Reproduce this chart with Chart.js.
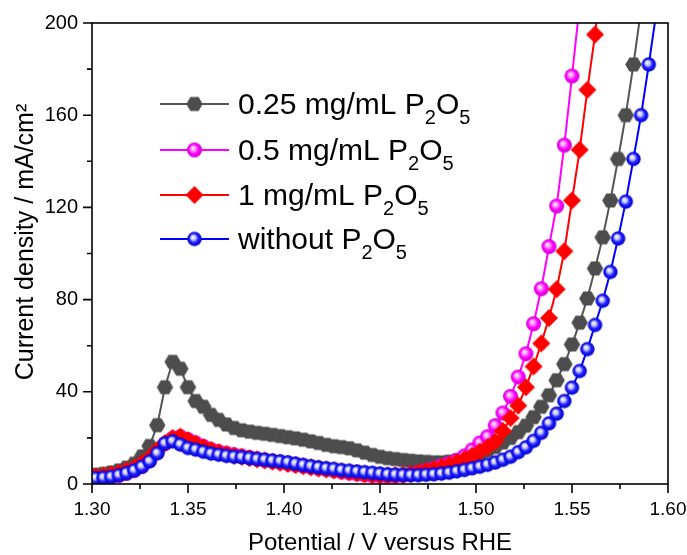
<!DOCTYPE html>
<html>
<head>
<meta charset="utf-8">
<script src="https://cdn.jsdelivr.net/npm/chart.js@4.4.0/dist/chart.umd.min.js"></script>
<style>
  html, body { margin: 0; padding: 0; background: #fff; }
  canvas { display: block; }
</style>
</head>
<body>
<canvas id="lsv" width="687" height="555"></canvas>
<script>
// potential grid (V vs RHE), one value per plotted marker
const potential = [
  1.302, 1.306, 1.310, 1.314, 1.318, 1.322, 1.326, 1.330, 1.334, 1.338,
  1.342, 1.346, 1.350, 1.354, 1.358, 1.362, 1.366, 1.370, 1.374, 1.378,
  1.382, 1.386, 1.390, 1.394, 1.398, 1.402, 1.406, 1.410, 1.414, 1.418,
  1.422, 1.426, 1.430, 1.434, 1.438, 1.442, 1.446, 1.450, 1.454, 1.458,
  1.462, 1.466, 1.470, 1.474, 1.478, 1.482, 1.486, 1.490, 1.494, 1.498,
  1.502, 1.506, 1.510, 1.514, 1.518, 1.522, 1.526, 1.530, 1.534, 1.538,
  1.542, 1.546, 1.550, 1.554, 1.558, 1.562, 1.566, 1.570, 1.574, 1.578,
  1.582, 1.586, 1.590, 1.594
];

// current density, mA/cm2
const p2o5_025 = [
  4.0, 4.4, 5.0, 5.9, 7.1, 8.8, 12.0, 16.5, 25.5, 42,
  53, 50, 42, 36, 33.5, 30, 27.8, 25.8, 24.3, 23.3,
  22.7, 22.2, 21.8, 21.3, 20.8, 20.3, 19.8, 19.2, 18.5, 17.8,
  17.0, 16.4, 16.0, 15.5, 14.6, 13.6, 12.6, 11.8, 11.2, 10.8,
  10.4, 10.1, 9.8, 9.6, 9.4, 9.4, 9.7, 10.2, 10.9, 11.8,
  13.0, 14.4, 16.0, 18.0, 20.0, 22.5, 25.3, 29, 33.5, 38.5,
  45, 52, 60.5, 70, 80.5, 93.5, 107, 123, 141, 160,
  182, 206
];
const p2o5_05 = [
  2.2, 2.5, 3.0, 3.7, 4.6, 5.8, 7.6, 10.2, 13.8, 17.5,
  19.8, 20.5, 19.3, 17.8, 16.3, 15.0, 14.0, 13.3, 12.7, 12.1,
  11.5, 10.9, 10.3, 9.8, 9.3, 8.8, 8.3, 7.8, 7.3, 6.8,
  6.3, 5.8, 5.3, 4.8, 4.4, 4.0, 3.7, 3.5, 3.4, 3.5,
  3.8, 4.3, 5.0, 5.8, 6.8, 7.9, 9.0, 10.3, 12.2, 14.8,
  17.8, 20.5, 25.3, 30.8, 38, 46.4, 56.5, 69.5, 84.7, 103,
  120.6, 147, 177, 208
];
const p2o5_1 = [
  3.3, 3.7, 4.2, 4.9, 5.9, 7.2, 9.0, 11.5, 14.8, 17.8,
  20.0, 20.6, 19.0, 17.5, 16.0, 14.8, 13.8, 13.0, 12.3, 11.8,
  11.2, 10.7, 10.2, 9.7, 9.2, 8.7, 8.2, 7.7, 7.2, 6.7,
  6.3, 5.9, 5.5, 5.1, 4.7, 4.3, 4.0, 3.8, 3.7, 3.8,
  4.0, 4.4, 5.0, 5.7, 6.5, 7.4, 8.4, 9.5, 10.8, 12.3,
  14.0, 16.0, 18.4, 23, 28.6, 34, 42, 51, 61, 72,
  84.5, 101, 123, 145, 171, 195, 224
];
const p2o5_none = [
  2.5, 2.7, 3.1, 3.8, 4.7, 5.9, 7.5, 9.8, 13.3, 17.6,
  18.5, 17.1, 15.6, 14.9, 14.0, 13.2, 12.7, 12.2, 11.8, 11.6,
  11.2, 10.8, 10.5, 10.1, 9.8, 9.4, 8.8, 8.2, 7.7, 7.2,
  6.8, 6.5, 6.0, 5.7, 5.4, 5.1, 4.8, 4.5, 4.2, 4.0,
  3.9, 3.8, 3.8, 4.0, 4.2, 4.5, 4.9, 5.5, 6.1, 6.8,
  7.5, 8.3, 9.3, 10.5, 11.8, 13.8, 15.9, 18.7, 22.2, 26.3,
  30.5, 36, 41.8, 49, 58.5, 69, 79.5, 92, 106.5, 122.5,
  141, 160, 182, 205
];

const seriesLabels = ['0.25 mg/mL P₂O₅', '0.5 mg/mL P₂O₅', '1 mg/mL P₂O₅', 'without P₂O₅'];
const xTicks = [1.30, 1.35, 1.40, 1.45, 1.50, 1.55, 1.60];
const yTicks = [0, 40, 80, 120, 160, 200];

const FONT = '"Liberation Sans", Arial, Helvetica, sans-serif';

// ---- marker images ----
function makeCanvas(size) {
  const c = document.createElement('canvas');
  c.width = c.height = size;
  return c;
}
function sphere(r, stops) {
  const s = Math.ceil(2 * r + 2);
  const c = makeCanvas(s);
  const g = c.getContext('2d');
  const m = s / 2;
  const grad = g.createRadialGradient(m - r * 0.25, m - r * 0.3, 0, m, m, r);
  stops.forEach(([p, col]) => grad.addColorStop(p, col));
  g.fillStyle = grad;
  g.beginPath();
  g.arc(m, m, r, 0, Math.PI * 2);
  g.fill();
  return c;
}
function hexagon(r, color) {
  const s = Math.ceil(2 * r + 2);
  const c = makeCanvas(s);
  const g = c.getContext('2d');
  const m = s / 2;
  g.fillStyle = color;
  g.beginPath();
  for (let k = 0; k < 6; k++) {
    const a = Math.PI / 3 * k;
    g.lineTo(m + r * Math.cos(a), m + r * Math.sin(a));
  }
  g.closePath();
  g.fill();
  return c;
}
function diamond(r, color) {
  const s = Math.ceil(2 * r + 2);
  const c = makeCanvas(s);
  const g = c.getContext('2d');
  const m = s / 2;
  g.fillStyle = color;
  g.beginPath();
  g.moveTo(m, m - r);
  g.lineTo(m + r, m);
  g.lineTo(m, m + r);
  g.lineTo(m - r, m);
  g.closePath();
  g.fill();
  return c;
}

const greyHex = hexagon(8.2, '#4d4d4d');
const pinkBall = sphere(7.5, [[0, '#ffffff'], [0.3, '#ff9cff'], [0.65, '#ff00ff'], [1, '#d000d0']]);
const redDiamond = diamond(9, '#ff0000');
const blueBall = sphere(7.2, [[0, '#ffffff'], [0.32, '#c8c8ff'], [0.62, '#2020ff'], [1, '#0000c8']]);

function pts(arr) {
  return arr.map((v, i) => ({ x: potential[i], y: v }));
}

function series(label, arr, color, marker, order) {
  return {
    label,
    data: pts(arr),
    borderColor: color,
    backgroundColor: color,
    borderWidth: 2,
    pointStyle: marker,
    pointRadius: 8,
    showLine: true,
    tension: 0,
    clip: 0,
    order
  };
}

const datasets = [
  series(seriesLabels[0], p2o5_025, '#555555', greyHex, 4),
  series(seriesLabels[1], p2o5_05, '#ff00ff', pinkBall, 3),
  series(seriesLabels[2], p2o5_1, '#ff0000', redDiamond, 2),
  series(seriesLabels[3], p2o5_none, '#0000ff', blueBall, 1)
];

// axes frame, outward ticks, axis titles
const framePlugin = {
  id: 'frame',
  afterDraw(chart) {
    const { ctx, chartArea: a, scales: { x, y } } = chart;
    ctx.save();
    ctx.strokeStyle = '#000';
    ctx.lineWidth = 1.6;
    ctx.strokeRect(a.left, a.top, a.right - a.left, a.bottom - a.top);
    ctx.beginPath();
    xTicks.forEach((v, i) => {
      const px = x.getPixelForValue(v);
      ctx.moveTo(px, a.bottom); ctx.lineTo(px, a.bottom + 9);
      if (i < xTicks.length - 1) {
        const mx = x.getPixelForValue((v + xTicks[i + 1]) / 2);
        ctx.moveTo(mx, a.bottom); ctx.lineTo(mx, a.bottom + 5);
      }
    });
    yTicks.forEach((v, i) => {
      const py = y.getPixelForValue(v);
      ctx.moveTo(a.left, py); ctx.lineTo(a.left - 9, py);
      if (i < yTicks.length - 1) {
        const my = y.getPixelForValue((v + yTicks[i + 1]) / 2);
        ctx.moveTo(a.left, my); ctx.lineTo(a.left - 5, my);
      }
    });
    ctx.stroke();

    ctx.fillStyle = '#000';
    ctx.font = '24px ' + FONT;
    ctx.textAlign = 'center';
    ctx.textBaseline = 'middle';
    ctx.fillText('Potential / V versus RHE', (a.left + a.right) / 2, 543);

    ctx.translate(26, 242);
    ctx.rotate(-Math.PI / 2);
    ctx.font = '25px ' + FONT;
    ctx.fillText('Current density / mA/cm²', 0, 0);
    ctx.restore();
  }
};

// legend with subscripted P2O5
const SUBS = { '₂': '2', '₅': '5' };
const legendPlugin = {
  id: 'subLegend',
  afterDraw(chart) {
    const ctx = chart.ctx;
    const rows = [104, 150, 195, 239];
    ctx.save();
    chart.data.datasets.forEach((ds, i) => {
      const y = rows[i];
      ctx.strokeStyle = ds.borderColor;
      ctx.lineWidth = 2;
      ctx.beginPath();
      ctx.moveTo(160, y); ctx.lineTo(229, y);
      ctx.stroke();
      const img = ds.pointStyle;
      ctx.drawImage(img, 194.5 - img.width / 2, y - img.height / 2);
      let tx = 238;
      ctx.fillStyle = '#000';
      ctx.textBaseline = 'alphabetic';
      ctx.textAlign = 'left';
      for (const ch of ds.label) {
        if (SUBS[ch]) {
          ctx.font = '20px ' + FONT;
          ctx.fillText(SUBS[ch], tx, y + 20);
          tx += ctx.measureText(SUBS[ch]).width;
        } else {
          ctx.font = '30px ' + FONT;
          ctx.fillText(ch, tx, y + 10);
          tx += ctx.measureText(ch).width;
        }
      }
    });
    ctx.restore();
  }
};

new Chart(document.getElementById('lsv'), {
  type: 'scatter',
  data: { datasets },
  options: {
    responsive: false,
    animation: false,
    devicePixelRatio: 1,
    layout: { padding: { top: 23, right: 19, left: 0, bottom: 0 } },
    plugins: { legend: { display: false }, tooltip: { enabled: false } },
    scales: {
      x: {
        type: 'linear',
        min: 1.30,
        max: 1.60,
        afterFit(s) { s.height = 71; s.paddingLeft = 0; s.paddingRight = 0; },
        afterBuildTicks(s) { s.ticks = xTicks.map(v => ({ value: v })); },
        grid: { display: false, drawTicks: false },
        border: { display: false },
        ticks: {
          callback: v => v.toFixed(2),
          font: { family: FONT, size: 19 },
          color: '#000',
          padding: 14,
          maxRotation: 0,
          autoSkip: false
        }
      },
      y: {
        min: 0,
        max: 200,
        afterFit(s) { s.width = 92; s.paddingTop = 0; s.paddingBottom = 0; },
        afterBuildTicks(s) { s.ticks = yTicks.map(v => ({ value: v })); },
        grid: { display: false, drawTicks: false },
        border: { display: false },
        ticks: {
          font: { family: FONT, size: 20 },
          color: '#000',
          padding: 14
        }
      }
    }
  },
  plugins: [framePlugin, legendPlugin]
});
</script>
</body>
</html>
